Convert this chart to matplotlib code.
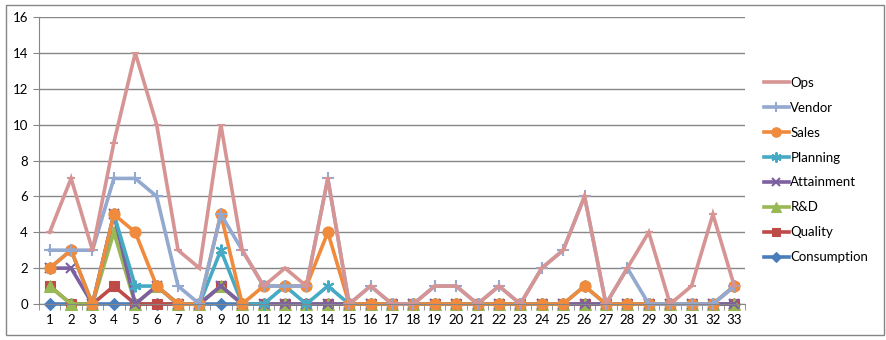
import matplotlib.pyplot as plt
import numpy as np
from matplotlib.patches import Rectangle

# categories 1..33
days = list(range(1, 34))

consumption = [0] * 33
quality = [1, 0, 0, 1, 0, 0, 0, 0, 1, 0, 0, 0, 0, 0, 0, 0, 0, 0, 0, 0, 0, 0, 0, 0, 0, 0, 0, 0, 0, 0, 0, 0, 0]
rnd = [1, 0, 0, 4, 0, 1, 0, 0, 1, 0, 0, 0, 0, 0, 0, 0, 0, 0, 0, 0, 0, 0, 0, 0, 0, 0, 0, 0, 0, 0, 0, 0, 0]
attainment = [2, 2, 0, 5, 0, 1, 0, 0, 1, 0, 0, 0, 0, 0, 0, 0, 0, 0, 0, 0, 0, 0, 0, 0, 0, 0, 0, 0, 0, 0, 0, 0, 0]
planning = [2, 3, 0, 5, 1, 1, 0, 0, 3, 0, 0, 1, 0, 1, 0, 0, 0, 0, 0, 0, 0, 0, 0, 0, 0, 1, 0, 0, 0, 0, 0, 0, 1]
sales = [2, 3, 0, 5, 4, 1, 0, 0, 5, 0, 1, 1, 1, 4, 0, 0, 0, 0, 0, 0, 0, 0, 0, 0, 0, 1, 0, 0, 0, 0, 0, 0, 1]
vendor = [3, 3, 3, 7, 7, 6, 1, 0, 5, 3, 1, 1, 1, 7, 0, 1, 0, 0, 1, 1, 0, 1, 0, 2, 3, 6, 0, 2, 0, 0, 0, 0, 1]
ops = [4, 7, 3, 9, 14, 10, 3, 2, 10, 3, 1, 2, 1, 7, 0, 1, 0, 0, 1, 1, 0, 1, 0, 2, 3, 6, 0, 2, 4, 0, 1, 5, 1]

# drawn bottom to top, legend listed top to bottom in reverse
series = [
    ("Consumption", consumption, "#4A7EBB", "D", 6.5),
    ("Quality", quality, "#BE4B48", "s", 7.5),
    ("R&D", rnd, "#98B954", "^", 8),
    ("Attainment", attainment, "#7D60A0", "x", 7),
    ("Planning", planning, "#46AAC5", (6, 2, 0), 8.5),
    ("Sales", sales, "#F08A3C", "o", 8),
    ("Vendor", vendor, "#93A9CF", "+", 8.5),
    ("Ops", ops, "#D69594", "_", 6),
]

plt.rcParams['font.family'] = ['Lato', 'DejaVu Sans']

fig = plt.figure(figsize=(8.86, 3.4), dpi=100)
ax = fig.add_axes([39 / 886, 36 / 340, 706 / 886, 287 / 340])

handles = []
for name, vals, color, marker, ms in series:
    thin = marker in ("x", "+", "_") or isinstance(marker, tuple)
    ln, = ax.plot(days, vals, color=color, lw=2.6, marker=marker, markersize=ms,
                  markeredgewidth=1.5 if thin else 0.8,
                  markeredgecolor=color, label=name, solid_joinstyle='miter',
                  clip_on=False)
    handles.append(ln)

ax.set_xlim(0.5, 33.5)
ax.set_ylim(0, 16)
ax.set_yticks(np.arange(0, 17, 2))
ax.set_xticks(days)
ax.set_xticks(np.arange(0.5, 34, 1), minor=True)
ax.tick_params(axis='x', which='major', length=0, labelsize=9.5, pad=7)
ax.tick_params(axis='x', which='minor', length=4, color='#868686')
ax.tick_params(axis='y', length=4, color='#868686', labelsize=9.5, pad=4)
ax.yaxis.grid(True, color='#878787', lw=1)
ax.set_axisbelow(True)
for s in ('top', 'right'):
    ax.spines[s].set_visible(False)
ax.spines['left'].set_color('#868686')
ax.spines['bottom'].set_color('#868686')

leg = fig.legend(handles[::-1], [h.get_label() for h in handles[::-1]],
                 loc='center left', bbox_to_anchor=(752 / 886, 0.5),
                 frameon=False, fontsize=9.5, handlelength=1.9,
                 handletextpad=0.1, labelspacing=0.98, markerscale=0.85)

fig.patches.append(Rectangle((6 / 886, 5 / 340), 878 / 886, 330 / 340,
                             transform=fig.transFigure, fill=False,
                             edgecolor='#868686', lw=1))

fig.savefig("out.png", dpi=100)
